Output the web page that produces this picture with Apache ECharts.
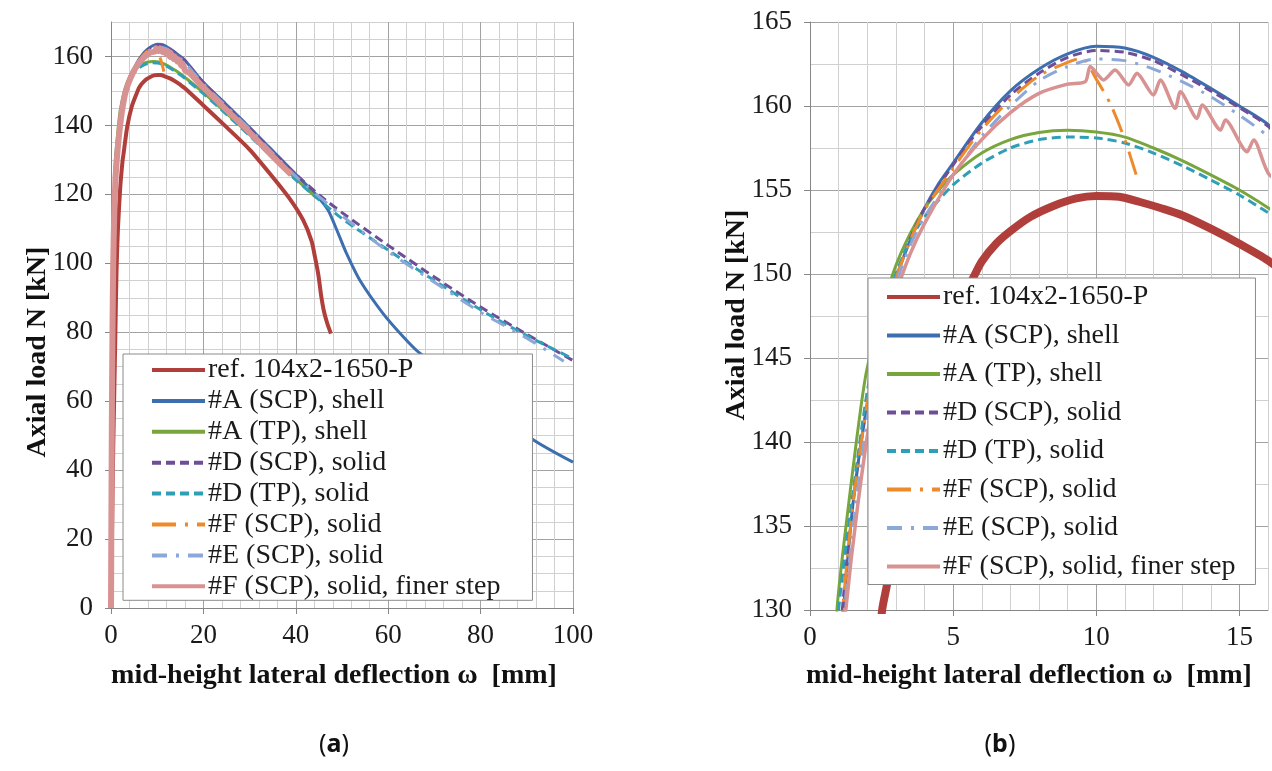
<!DOCTYPE html>
<html><head><meta charset="utf-8">
<script src="https://cdn.jsdelivr.net/npm/echarts@6/dist/echarts.min.js"></script>
<style>html,body{margin:0;padding:0;background:#fff}#c{width:1272px;height:771px}</style>
</head><body><div id="c"></div>
<script>
// ---------------- data ----------------
const seriesNames = [
  'ref. 104x2-1650-P',
  '#A (SCP), shell',
  '#A (TP), shell',
  '#D (SCP), solid',
  '#D (TP), solid',
  '#F (SCP), solid',
  '#E (SCP), solid',
  '#F (SCP), solid, finer step'
];
const xTicksA = [0, 20, 40, 60, 80, 100];
const yTicksA = [0, 20, 40, 60, 80, 100, 120, 140, 160];
const xTicksB = [0, 5, 10, 15];
const yTicksB = [130, 135, 140, 145, 150, 155, 160, 165];
const xTitle = 'mid-height lateral deflection ω  [mm]';
const yTitle = 'Axial load N [kN]';

const refData = [[0,0],[0.3,30],[0.5,48],[0.7,62],[0.95,80],[1.2,98],[1.5,110],[2.0,122],[2.52,130],[2.69,131.5],[3.5,139.5],[4.5,145.5],[5.71,149.8],[6.0,150.75],[6.5,151.8],[7,152.55],[7.7,153.4],[8.5,154.05],[9.3,154.5],[10,154.65],[10.8,154.6],[11.5,154.3],[12.3,153.9],[13,153.5],[14,152.7],[15,151.8],[16,150.8],[20,145.8],[25,139.5],[30,133],[34.4,126],[38.7,118.7],[41.6,112.5],[43.4,106.5],[44.2,101.5],[44.9,96.5],[45.5,90.5],[46.1,86],[46.8,82.6],[47.6,79.6]];
const aScpShell = [[0,0],[0.1,30],[0.2,58],[0.3,80],[0.45,99],[0.65,113],[0.9,124],[1.17,130],[1.5,136.3],[2,142.3],[2.5,146.3],[3,149.7],[3.5,152.0],[4,153.9],[4.5,155.4],[5,156.6],[6,159.0],[7,160.9],[8,162.2],[9,163.1],[10,163.55],[11,163.45],[12,162.9],[13,162.05],[14,161.05],[15,160.0],[16,158.9],[20,152.5],[25,146],[30,139.4],[35,132.6],[40,125.8],[44.5,119.7],[47,115.4],[49.2,108.6],[51,102.8],[53.9,95],[58.9,85.4],[63.3,78.6],[66.5,74.3],[80,60.5],[91.3,48.9],[100,42.3]];
const aTpShell = [[0,0],[0.08,30],[0.18,58],[0.28,80],[0.4,99],[0.58,113],[0.8,124],[0.94,130],[1.35,136.3],[1.93,143.8],[2.5,147.8],[3,150.5],[3.5,152.4],[4,153.9],[4.5,155.0],[5,155.9],[6,157.2],[7,158.0],[8,158.42],[9,158.55],[10,158.45],[11,158.15],[12,157.5],[13,156.75],[14,155.9],[15,155.0],[16,153.95],[20,149.5],[25,143.5],[30,137.3],[35,130.9],[40,124.5],[44.5,119]];
const dScpSolid = [[0,0],[0.1,30],[0.2,58],[0.3,80],[0.44,99],[0.64,113],[0.88,124],[1.13,130],[1.5,136.5],[2,142.5],[2.5,146.5],[3,149.8],[3.5,152.1],[4,153.9],[5,156.5],[6,158.8],[7,160.65],[8,161.95],[9,162.9],[10,163.3],[11,163.2],[12,162.7],[13,161.85],[14,160.9],[15,159.9],[16,158.8],[20,152.4],[25,145.9],[30,139.3],[35,132.5],[40,125.8],[45,119.9],[50,114.7],[60,105.2],[70,96],[80,87.3],[90,79.4],[100,71.8]];
const dTpSolid = [[0,0],[0.08,30],[0.18,58],[0.29,80],[0.42,99],[0.6,113],[0.83,124],[1.0,130],[1.45,136.3],[2.0,143.0],[2.5,147.2],[3,150.0],[3.5,152.0],[4,153.4],[5,155.3],[6,156.6],[7,157.5],[8,158.0],[9,158.15],[10,158.1],[11,157.8],[12,157.2],[13,156.45],[14,155.6],[15,154.7],[16,153.65],[20,149.2],[25,143.2],[30,137],[35,130.6],[40,124.2],[45,118.5],[50,113],[60,103.8],[70,95],[80,86.5],[90,79.0],[100,72.3]];
const fScpSolid = [[0,0],[0.1,30],[0.2,58],[0.3,80],[0.44,99],[0.64,113],[0.88,124],[1.14,130],[1.5,136.3],[2,142.3],[2.5,146.4],[3,149.7],[3.5,152.0],[4,153.8],[5,156.3],[6,158.6],[7,160.4],[8,161.8],[9,162.6],[9.5,162.85],[10,161.6],[10.5,160.1],[11,158.0],[11.45,155.6]];
const eScpSolid = [[0,0],[0.1,30],[0.2,58],[0.31,80],[0.46,99],[0.67,113],[0.92,124],[1.2,130],[1.6,136.2],[2.05,142],[2.5,145.9],[3,149.4],[3.5,151.7],[4,153.4],[5,155.9],[6,158.2],[7,160.0],[8,161.5],[9,162.35],[10,162.8],[11,162.7],[12,162.2],[13,161.45],[14,160.55],[15,159.45],[16,158.2],[20,152],[25,145.5],[30,139],[35,132],[40,125.2],[50,113.8],[60,103.4],[70,94.5],[80,85.8],[90,78.3],[98,71.6]];
const fScpFiner = [[0,0],[0.1,30],[0.2,58],[0.32,80],[0.47,99],[0.68,113],[0.95,124],[1.25,130],[1.65,136],[2.15,142],[2.6,146],[3,148.8],[3.5,151.2],[4,153.0],[5,155.9],[6,158.0],[7,159.6],[8,160.75],[9,161.3],[9.62,161.45],[9.79,162.35],[10.26,161.55],[10.66,162.14],[11.13,161.25],[11.42,161.95],[12.0,160.65],[12.24,161.55],[12.76,159.86],[12.94,160.85],[13.52,159.26],[13.7,160.06],[14.34,158.57],[14.51,159.17],[15.27,157.28],[15.5,157.98],[16.05,155.9],[17,155.2],[20,151],[25,144.5],[30,138],[35,131],[39,125.7]];

const seriesData = [refData, aScpShell, aTpShell, dScpSolid, dTpSolid, fScpSolid, eScpSolid, fScpFiner];

// ---------------- styles ----------------
const colors = ['#B03F3B', '#3C6EB0', '#79A63C', '#6D4E97', '#2F9FB7', '#EC8A2C', '#8CA8D8', '#D89291'];
const dashes = ['solid', 'solid', 'solid', [9, 5], [9, 5], [24, 9, 3, 9], [15, 9, 3, 9], 'solid'];
const widthA = [4, 3, 3, 3, 3, 3, 3, 6];
const widthB = [8, 3, 3, 3, 3, 3, 3, 3.5];

const MAJOR = '#a2a2a2', MINOR = '#d0d0d0', AXIS = '#868686';
const SERIF = "'Liberation Serif', 'Times New Roman', serif";

function gridAxis(grid, dim, min, max, interval, pattern) {
  return {
    type: 'value', gridIndex: grid, min: min, max: max, interval: interval,
    position: dim === 'x' ? 'bottom' : 'left', z: 0,
    axisLine: { show: true, lineStyle: { color: AXIS, width: 1 } },
    axisTick: { show: false }, axisLabel: { show: false },
    splitLine: { show: true, lineStyle: { color: pattern, width: 1 } }
  };
}
function labelAxis(grid, dim, min, max, ticks) {
  return {
    type: 'value', gridIndex: grid, min: min, max: max,
    position: dim === 'x' ? 'bottom' : 'left', z: 1,
    axisLine: { show: false },
    axisTick: { show: true, inside: false, length: 6, customValues: ticks, lineStyle: { color: AXIS } },
    axisLabel: { show: true, customValues: ticks, fontFamily: SERIF, fontSize: 27, color: '#1a1a1a', margin: dim === 'x' ? 14 : 18 },
    splitLine: { show: false }
  };
}

const xAxes = [
  gridAxis(0, 'x', 0, 100, 4, [MAJOR, MINOR, MINOR, MINOR, MINOR]),
  labelAxis(0, 'x', 0, 100, xTicksA),
  gridAxis(1, 'x', 0, 16, 1, [MAJOR, MINOR, MINOR, MINOR, MINOR]),
  labelAxis(1, 'x', 0, 16, xTicksB)
];
const yAxes = [
  gridAxis(0, 'y', 0, 170, 5, [MAJOR, MINOR, MINOR, MINOR]),
  labelAxis(0, 'y', 0, 170, yTicksA),
  gridAxis(1, 'y', 130, 165, 2.5, [MAJOR, MINOR]),
  labelAxis(1, 'y', 130, 165, yTicksB)
];

const series = [];
[0, 1].forEach(function (p) {
  seriesNames.forEach(function (name, i) {
    series.push({
      type: 'line', name: name,
      xAxisIndex: p * 2, yAxisIndex: p * 2,
      data: seriesData[i],
      symbol: 'none', showSymbol: false, smooth: 0.25,
      clip: true, animation: false,
      lineStyle: { color: colors[i], width: p === 0 ? widthA[i] : widthB[i], type: dashes[i], cap: 'butt', join: 'round' },
      itemStyle: { color: colors[i] },
      emphasis: { disabled: true }
    });
  });
});

function legend(left, top, gap, pad) {
  return {
    data: seriesNames, orient: 'vertical', left: left, top: top,
    padding: pad, itemGap: gap, itemWidth: 53, itemHeight: 14,
    backgroundColor: '#ffffff', borderColor: '#8a8a8a', borderWidth: 1,
    textStyle: { fontFamily: SERIF, fontSize: 28, color: '#1a1a1a', lineHeight: 28, padding: [0, 0, 0, -2] },
    lineStyle: { width: 4 }, itemStyle: { opacity: 0, borderWidth: 0 },
    selectedMode: false, z: 10
  };
}

const option = {
  backgroundColor: '#ffffff',
  animation: false,
  grid: [
    { left: 111, top: 22, width: 462, height: 586, containLabel: false },
    { left: 810, top: 22, width: 458, height: 588, containLabel: false }
  ],
  xAxis: xAxes,
  yAxis: yAxes,
  legend: [
    legend(123, 354, 2.9, [2, 32, 0, 27]),
    legend(868, 278, 10.5, [5, 20, 4, 17])
  ],
  series: series,
  graphic: [
    { type: 'text', x: 334, y: 676, style: { text: xTitle, fontFamily: SERIF, fontWeight: 'bold', fontSize: 28, fill: '#111', align: 'center', verticalAlign: 'middle' } },
    { type: 'text', x: 1029, y: 676, style: { text: xTitle, fontFamily: SERIF, fontWeight: 'bold', fontSize: 28, fill: '#111', align: 'center', verticalAlign: 'middle' } },
    { type: 'text', x: 38, y: 352, rotation: Math.PI / 2, style: { text: yTitle, fontFamily: SERIF, fontWeight: 'bold', fontSize: 28, fill: '#111', align: 'center', verticalAlign: 'middle' } },
    { type: 'text', x: 737, y: 315, rotation: Math.PI / 2, style: { text: yTitle, fontFamily: SERIF, fontWeight: 'bold', fontSize: 28, fill: '#111', align: 'center', verticalAlign: 'middle' } },
    { type: 'text', x: 334, y: 745, style: { text: '({b|a})', fontFamily: "'Noto Sans', sans-serif", fontSize: 25, fill: '#111', align: 'center', verticalAlign: 'middle', rich: { b: { fontFamily: "'Noto Sans', sans-serif", fontSize: 25, fontWeight: 'bold', fill: '#111' } } } },
    { type: 'text', x: 1000, y: 745, style: { text: '({b|b})', fontFamily: "'Noto Sans', sans-serif", fontSize: 25, fill: '#111', align: 'center', verticalAlign: 'middle', rich: { b: { fontFamily: "'Noto Sans', sans-serif", fontSize: 25, fontWeight: 'bold', fill: '#111' } } } }
  ]
};

const chart = echarts.init(document.getElementById('c'), null, { renderer: 'canvas' });
chart.setOption(option);
</script>
</body></html>
